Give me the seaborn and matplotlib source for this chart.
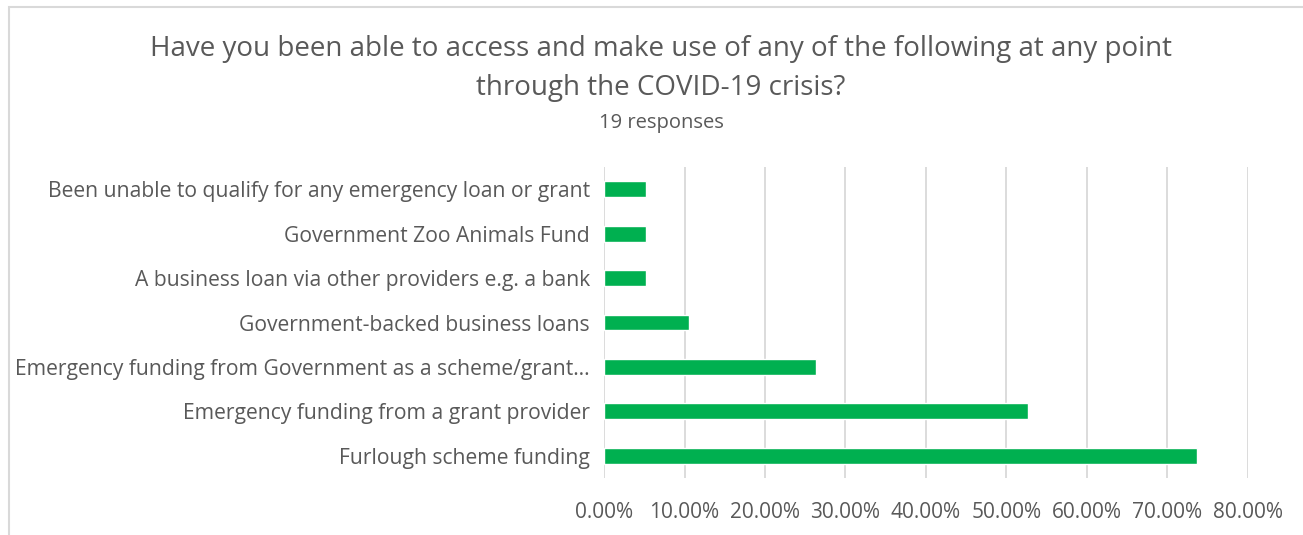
import matplotlib
matplotlib.use("Agg")
import matplotlib.pyplot as plt
import seaborn as sns
import pandas as pd
from matplotlib.patches import Rectangle
from matplotlib.ticker import FuncFormatter

categories = [
    "Been unable to qualify for any emergency loan or grant",
    "Government Zoo Animals Fund",
    "A business loan via other providers e.g. a bank",
    "Government-backed business loans",
    "Emergency funding from Government as a scheme/grant\u2026",
    "Emergency funding from a grant provider",
    "Furlough scheme funding",
]
values = [0.0526, 0.0526, 0.0526, 0.1053, 0.2632, 0.5263, 0.7368]
x_ticks = [0.0, 0.1, 0.2, 0.3, 0.4, 0.5, 0.6, 0.7, 0.8]
title_line1 = "Have you been able to access and make use of any of the following at any point"
title_line2 = "through the COVID-19 crisis?"
subtitle = "19 responses"

sns.set_theme(style="white")
plt.rcParams["font.family"] = ["Open Sans", "DejaVu Sans"]

W, H = 1303, 535
fig = plt.figure(figsize=(W / 100, H / 100), dpi=100)
fig.patch.set_facecolor("white")

ax = fig.add_axes([604 / W, 1 - 478 / H, (1248 - 604) / W, (478 - 167) / H])
df = pd.DataFrame({"cat": categories, "val": values})
sns.barplot(data=df, x="val", y="cat", orient="h", color="#00B050",
            saturation=1, width=0.36, ax=ax, zorder=3)

ax.set_xlim(0, 0.8)
ax.set_xticks(x_ticks)
ax.xaxis.set_major_formatter(FuncFormatter(lambda v, p: f"{v*100:.2f}%"))
ax.grid(axis="x", color="#D9D9D9", linewidth=1.3, zorder=0)
ax.set_axisbelow(True)
for s in ax.spines.values():
    s.set_visible(False)
ax.set_xlabel("")
ax.set_ylabel("")
ax.tick_params(axis="both", length=0, labelcolor="#595959")
ax.tick_params(axis="y", pad=10, labelsize=15.2)
ax.tick_params(axis="x", pad=17, labelsize=15)

grey = "#595959"
fig.text(661 / W, 1 - 49 / H, title_line1, ha="center", va="center",
         fontsize=20, color=grey)
fig.text(661 / W, 1 - 88 / H, title_line2, ha="center", va="center",
         fontsize=20, color=grey)
fig.text(661 / W, 1 - 123 / H, subtitle, ha="center", va="center",
         fontsize=14.5, color=grey)

# outer chart frame (extends beyond right and bottom edges)
fig.patches.append(Rectangle((8.5 / W, -0.1), 1.2, 1.1 - 7.5 / H,
                             transform=fig.transFigure, fill=False,
                             edgecolor="#D9D9D9", linewidth=1.5, zorder=0))

fig.savefig("out.png", dpi=100, facecolor="white")
